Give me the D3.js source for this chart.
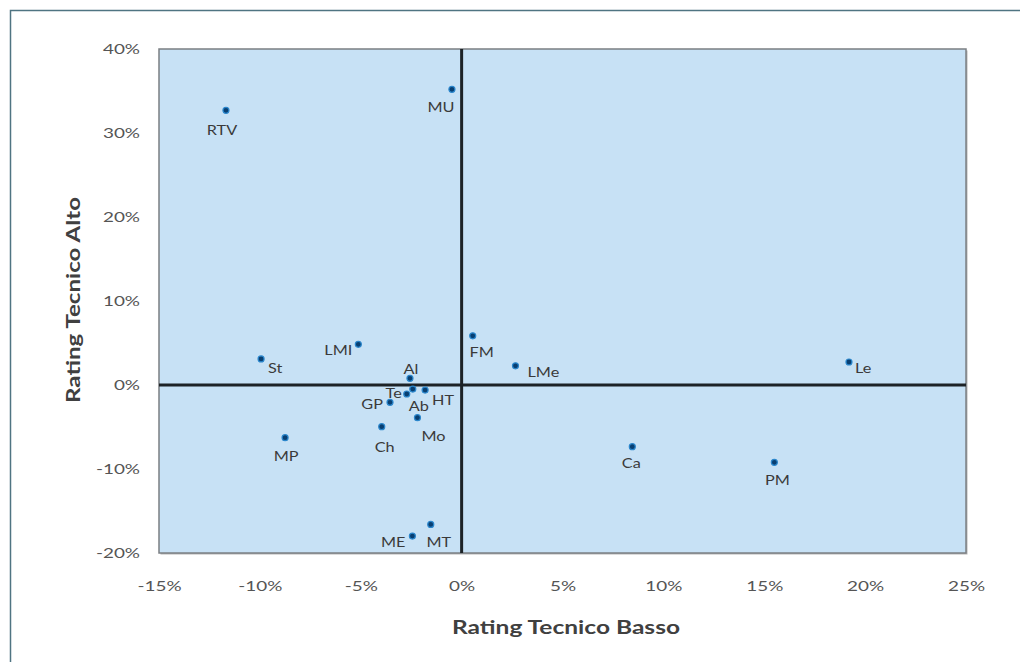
<!DOCTYPE html>
<html>
<head>
<meta charset="utf-8">
<script src="https://cdn.jsdelivr.net/npm/d3@7"></script>
<style>
  html, body { margin: 0; padding: 0; background: #fff; }
  svg { display: block; }
</style>
</head>
<body>
<svg id="chart" width="1020" height="662"></svg>
<script>
// Point labels and their coordinates (fractions: 0.10 = 10%)
const labels = ["RTV","MU","St","LMI","FM","LMe","Le","Al","Ab","HT","Te","GP","Mo","Ch","MP","Ca","PM","ME","MT"];
const ratingBasso = [-0.1168,-0.0048,-0.0994,-0.0512,0.0055,0.0267,0.192,-0.0256,-0.0242,-0.0181,-0.0272,-0.0355,-0.0219,-0.0396,-0.0875,0.0846,0.155,-0.0244,-0.0153];
const ratingAlto  = [0.327,0.352,0.031,0.0484,0.0585,0.0228,0.0274,0.008,-0.0048,-0.006,-0.0107,-0.0206,-0.0389,-0.0496,-0.0627,-0.0734,-0.092,-0.1798,-0.166];
const xTicks = [-0.15,-0.10,-0.05,0,0.05,0.10,0.15,0.20,0.25];
const yTicks = [-0.20,-0.10,0,0.10,0.20,0.30,0.40];
const xTitle = "Rating Tecnico Basso";
const yTitle = "Rating Tecnico Alto";

const points = labels.map((name, i) => ({ name, x: ratingBasso[i], y: ratingAlto[i] }));

// Label placement around each marker: anchor and offset in px
const placement = {
  RTV: ["middle", -4, 20], MU: ["middle", -11, 18], St: ["start", 7, 9],
  LMI: ["end", -6, 6], FM: ["middle", 9, 16], LMe: ["start", 12, 6],
  Le: ["start", 6, 6], Al: ["middle", 1, -9], Ab: ["middle", 6, 17],
  HT: ["start", 7, 10], Te: ["end", -5, -1], GP: ["end", -7, 2],
  Mo: ["middle", 16, 18], Ch: ["middle", 3, 20], MP: ["middle", 1, 18],
  Ca: ["middle", -1, 16], PM: ["middle", 3, 18], ME: ["end", -7, 6],
  MT: ["middle", 8, 18]
};

const svg = d3.select("#chart");
const font = "Lato, 'Open Sans', 'DejaVu Sans', sans-serif";

// Widen text glyphs horizontally by a factor, keeping the anchor
function widen(sel, k) {
  sel.each(function () {
    const w = this.getComputedTextLength();
    d3.select(this).attr("textLength", w * k).attr("lengthAdjust", "spacingAndGlyphs");
  });
}

// Outer chart frame
svg.append("rect")
  .attr("x", 10.5).attr("y", 10.5)
  .attr("width", 1030).attr("height", 680)
  .attr("fill", "#fff").attr("stroke", "#4f7482").attr("stroke-width", 1.5);

const plot = { left: 159, top: 49, right: 966, bottom: 553 };

const x = d3.scaleLinear().domain([-0.15, 0.25]).range([plot.left, plot.right]);
const y = d3.scaleLinear().domain([-0.20, 0.40]).range([plot.bottom, plot.top]);
const pctFmt = d3.format(".0%");
const pct = v => pctFmt(v).replace("\u2212", "-");

// Plot area with soft shadow
svg.append("rect")
  .attr("x", plot.left + 1.5).attr("y", plot.top + 1.5)
  .attr("width", plot.right - plot.left).attr("height", plot.bottom - plot.top)
  .attr("fill", "#b5b5b5");
svg.append("rect")
  .attr("x", plot.left).attr("y", plot.top)
  .attr("width", plot.right - plot.left).attr("height", plot.bottom - plot.top)
  .attr("fill", "#c7e1f5").attr("stroke", "#7b7f83").attr("stroke-width", 1.5);

// Tick labels
const xAxis = svg.append("g")
  .attr("transform", `translate(0,${plot.bottom})`)
  .call(d3.axisBottom(x).tickValues(xTicks).tickFormat(pct).tickSize(0).tickPadding(28));
const yAxis = svg.append("g")
  .attr("transform", `translate(${plot.left},0)`)
  .call(d3.axisLeft(y).tickValues(yTicks).tickFormat(pct).tickSize(0).tickPadding(19));
[xAxis, yAxis].forEach(g => {
  g.select(".domain").remove();
  g.selectAll("text")
    .attr("fill", "#555")
    .style("font-family", font)
    .style("font-size", "14px")
    .call(widen, 1.35);
});

// Quadrant lines through zero
svg.append("line")
  .attr("x1", x(0)).attr("x2", x(0))
  .attr("y1", plot.top).attr("y2", plot.bottom)
  .attr("stroke", "#1d2226").attr("stroke-width", 3);
svg.append("line")
  .attr("x1", plot.left).attr("x2", plot.right)
  .attr("y1", y(0)).attr("y2", y(0))
  .attr("stroke", "#1d2226").attr("stroke-width", 3);

// Markers
svg.append("g").selectAll("circle")
  .data(points)
  .join("circle")
  .attr("cx", d => x(d.x))
  .attr("cy", d => y(d.y))
  .attr("r", 3)
  .attr("fill", "#083f72")
  .attr("stroke", "#2a86cc").attr("stroke-width", 1.2);

// Point labels
svg.append("g").selectAll("text")
  .data(points)
  .join("text")
  .attr("x", d => x(d.x) + placement[d.name][1])
  .attr("y", d => y(d.y) + placement[d.name][2])
  .attr("text-anchor", d => placement[d.name][0])
  .attr("dominant-baseline", "central")
  .attr("fill", "#3a3a3a")
  .style("font-family", font)
  .style("font-size", "13px")
  .text(d => d.name)
  .call(widen, 1.25);

// Axis titles
svg.append("text")
  .attr("x", 566).attr("y", 627)
  .attr("text-anchor", "middle").attr("dominant-baseline", "central")
  .attr("fill", "#404040")
  .attr("textLength", 228).attr("lengthAdjust", "spacingAndGlyphs")
  .style("font-family", font).style("font-size", "18px").style("font-weight", "bold")
  .text(xTitle);
svg.append("text")
  .attr("transform", "translate(73,300) rotate(-90)")
  .attr("text-anchor", "middle").attr("dominant-baseline", "central")
  .attr("fill", "#404040")
  .attr("textLength", 206).attr("lengthAdjust", "spacingAndGlyphs")
  .style("font-family", font).style("font-size", "18px").style("font-weight", "bold")
  .text(yTitle);
</script>
</body>
</html>
